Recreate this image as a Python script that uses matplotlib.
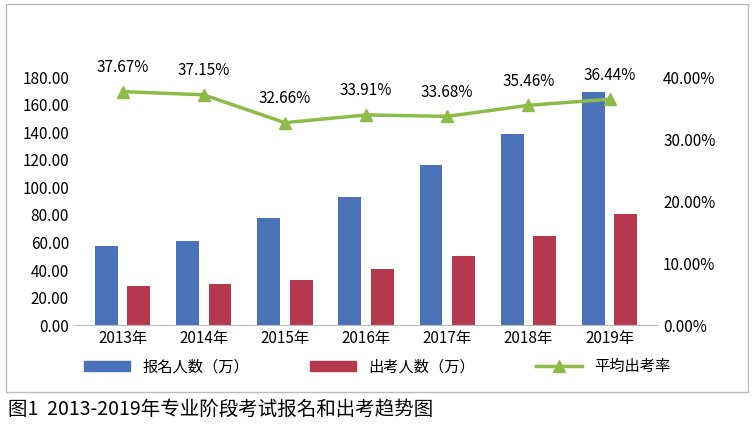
import matplotlib
matplotlib.use("Agg")
import matplotlib.pyplot as plt
from matplotlib.patches import Rectangle, Patch
from matplotlib.lines import Line2D
import numpy as np

plt.rcParams['font.family'] = ['Noto Sans CJK JP', 'Noto Sans CJK SC', 'DejaVu Sans']

years = ["2013年","2014年","2015年","2016年","2017年","2018年","2019年"]
applicants = [57.3, 61.0, 77.6, 92.9, 116.0, 139.0, 169.0]
takers = [28.3, 29.8, 32.7, 40.6, 50.0, 64.6, 80.5]
rate = [37.67, 37.15, 32.66, 33.91, 33.68, 35.46, 36.44]

fig = plt.figure(figsize=(7.54, 4.24), dpi=100)
fig.patches.append(Rectangle((0.008, 0.075), 0.984, 0.915, transform=fig.transFigure,
                             fill=False, edgecolor='#bbbbbb', lw=1))
ax = fig.add_axes([0.098, 0.233, 0.775, 0.585])
x = np.arange(len(years))
w = 0.28
ax.bar(x - 0.2, applicants, w, color='#4a72b8')
ax.bar(x + 0.2, takers, w, color='#b5384f')
ax.set_ylim(0, 180)
ax.set_yticks(np.arange(0, 181, 20))
ax.set_yticklabels([f"{v:.2f}" for v in range(0, 181, 20)])
ax.set_xticks(x)
ax.set_xticklabels(years)
ax.set_xlim(-0.6, 6.6)
for s in ['top', 'right', 'left']:
    ax.spines[s].set_visible(False)
ax.spines['bottom'].set_color('#bbbbbb')
ax.tick_params(length=0, labelsize=11)

ax2 = ax.twinx()
ax2.plot(x, rate, color='#8dbb47', lw=2.5, marker='^', markersize=9)
ax2.set_ylim(0, 40)
ax2.set_yticks(np.arange(0, 41, 10))
ax2.set_yticklabels([f"{v:.2f}%" for v in range(0, 41, 10)])
for s in ax2.spines.values():
    s.set_visible(False)
ax2.tick_params(length=0, labelsize=11)
for xi, r in zip(x, rate):
    ax2.annotate(f"{r:.2f}%", (xi, r), xytext=(0, 14), textcoords='offset points',
                 ha='center', fontsize=11)

handles = [Patch(color='#4a72b8', label='报名人数（万）'), Patch(color='#b5384f', label='出考人数（万）'),
           Line2D([], [], color='#8dbb47', lw=2.5, marker='^', markersize=9, label='平均出考率')]
fig.legend(handles=handles, loc='center', bbox_to_anchor=(0.5, 0.135), ncol=3, frameon=False,
           fontsize=11, handlelength=3, columnspacing=4)
fig.text(0.01, 0.035, "图1  2013-2019年专业阶段考试报名和出考趋势图", fontsize=14, va='center')
fig.savefig("out.png", dpi=100)
